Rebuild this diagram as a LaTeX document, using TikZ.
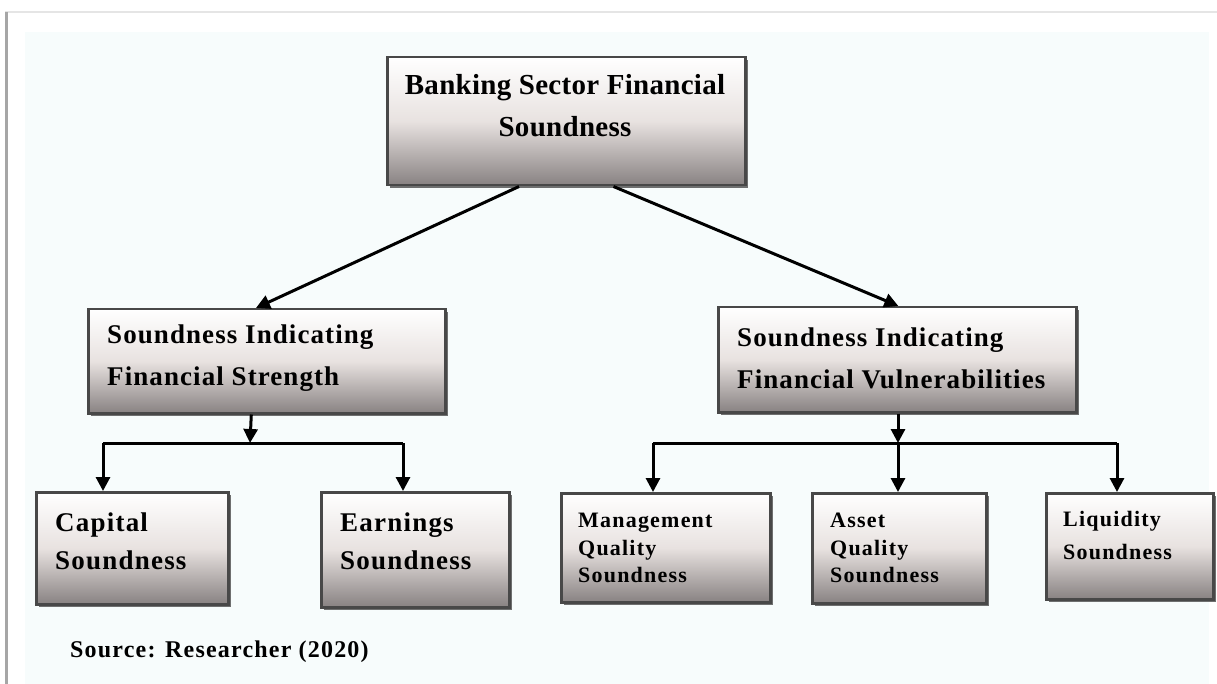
\documentclass[tikz,border=0pt]{standalone}
\usepackage{fontspec}
\setmainfont{Liberation Serif}
\usetikzlibrary{arrows.meta,shadows,calc}
\definecolor{panel}{RGB}{247,252,252}
\definecolor{boxline}{RGB}{72,72,72}
\definecolor{boxbot}{RGB}{136,130,130}
\definecolor{boxmid}{RGB}{232,226,224}
\tikzset{
  box/.style={draw=boxline, line width=2.5pt, inner sep=0pt, anchor=north west,
    top color=white, bottom color=boxbot, middle color=boxmid,
    drop shadow={shadow xshift=2.5pt, shadow yshift=-2.5pt, fill=black!70, opacity=0.8}},
  lbl/.style={anchor=west, align=left, inner sep=0pt, text=black},
  arr/.style={line width=3pt, -{Triangle[length=14pt,width=14pt]}},
  ln/.style={line width=3pt}
}
\newcommand{\fsz}[3]{\fontsize{#1}{#2}\selectfont\bfseries\addfontfeature{LetterSpace=#3}}
\begin{document}
\begin{tikzpicture}[x=1pt,y=-1pt]
\useasboundingbox (0,0) rectangle (1217,684);
% background
\fill[white] (0,0) rectangle (1217,684);
\fill[black!10] (5,11) rectangle (1217,13);
\fill[black!35] (5,12) rectangle (8,684);
\fill[panel] (25,32) rectangle (1209,684);

% boxes
\node[box, minimum width=358pt, minimum height=128pt] (top) at (386,56) {};
\node[box, minimum width=357pt, minimum height=104pt] (lm) at (87,308) {};
\node[box, minimum width=358pt, minimum height=105pt] (rm) at (717,306) {};
\node[box, minimum width=192pt, minimum height=112pt] (cap) at (35,491) {};
\node[box, minimum width=188pt, minimum height=115pt] (ear) at (320,491) {};
\node[box, minimum width=209pt, minimum height=109pt] (man) at (560,492) {};
\node[box, minimum width=174pt, minimum height=110pt] (ass) at (811,492) {};
\node[box, minimum width=167pt, minimum height=106pt] (liq) at (1045,492) {};

% texts
\node[lbl, anchor=center, align=center, font=\fsz{29}{42}{1}] (ttop) at (565,106) {Banking Sector Financial\\Soundness};
\node[lbl, font=\fsz{27}{42}{4}] (tlm) at (107,358) {Soundness Indicating\\Financial Strength};
\node[lbl, font=\fsz{27}{42}{4}] (trm) at (737,358) {Soundness Indicating\\Financial Vulnerabilities};
\node[lbl, font=\fsz{27}{38}{4.5}] (tcap) at (55,541) {Capital\\Soundness};
\node[lbl, font=\fsz{27}{38}{4.5}] (tear) at (340,541) {Earnings\\Soundness};
\node[lbl, font=\fsz{22}{27.5}{5.5}] (tman) at (578,548) {Management\\Quality\\Soundness};
\node[lbl, font=\fsz{22}{27.5}{5.5}] (tass) at (830,548) {Asset\\Quality\\Soundness};
\node[lbl, font=\fsz{22}{33}{5.5}] (tliq) at (1063,535) {Liquidity\\Soundness};
\node[lbl, font=\fsz{24}{28}{5}] (src) at (70,652) {Source: Researcher (2020)};

% connectors
\draw[arr] ($(top.south west)!0.369!(top.south east)$) -- ($(lm.north west)!0.47!(lm.north east)$);
\draw[arr] ($(top.south west)!0.631!(top.south east)$) -- ($(rm.north west)!0.503!(rm.north east)$);

\coordinate (lj) at (250,443);
\coordinate (lL) at (103,443);
\coordinate (lR) at (403,443);
\draw[arr] ($(lm.south west)!0.457!(lm.south east)$) -- (lj);
\draw[ln] (lL) -- (lR);
\draw[arr] (lL) -- (lL |- cap.north);
\draw[arr] (lR) -- (lR |- ear.north);

\coordinate (rj) at (898,443);
\coordinate (rL) at (653,443);
\coordinate (rR) at (1117,443);
\draw[arr] (rm.south -| rj) -- (rj);
\draw[ln] (rL) -- (rR);
\draw[arr] (rL) -- (rL |- man.north);
\draw[arr] (rj) -- (rj |- ass.north);
\draw[arr] (rR) -- (rR |- liq.north);
\end{tikzpicture}
\end{document}
